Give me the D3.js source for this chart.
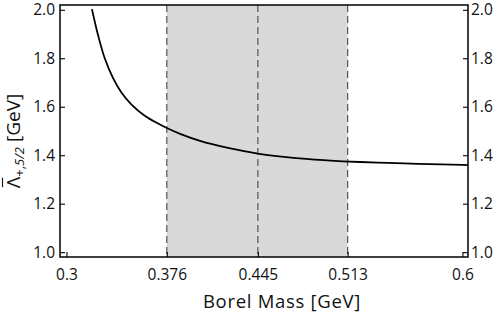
<!DOCTYPE html>
<html>
<head>
<meta charset="utf-8">
<script src="https://cdn.jsdelivr.net/npm/d3@7"></script>
<style>
  body { margin: 0; background: #fff; }
  text { font-family: "Open Sans", sans-serif; fill: #111; }
</style>
</head>
<body>
<div id="chart"></div>
<script>
// datos
var masa = [0.3193, 0.3239, 0.3290, 0.3353, 0.3415, 0.3491, 0.3593, 0.3694, 0.3777, 0.3861,
             0.4012, 0.4215, 0.4450, 0.4720, 0.4973, 0.5225, 0.5500, 0.5750, 0.6000, 0.6040];
var lambda = [2.003, 1.896, 1.800, 1.718, 1.660, 1.610, 1.563, 1.531, 1.508, 1.488,
              1.459, 1.431, 1.407, 1.389, 1.379, 1.372, 1.367, 1.363, 1.360, 1.359];
var ventana = [0.376, 0.445, 0.513]; // lineas discontinuas
var ticksX = [0.3, 0.376, 0.445, 0.513, 0.6],
    ticksY = [1.0, 1.2, 1.4, 1.6, 1.8, 2.0];

var margin = {top: 5, right: 29, bottom: 57, left: 60},
    chartWidth = 497,
    chartHeight = 314,
    width = chartWidth - margin.left - margin.right,
    height = chartHeight - margin.top - margin.bottom;

var svg = d3.select("#chart")
            .append("svg")
            .attr("width", chartWidth)
            .attr("height", chartHeight)
            .append("g")
            .attr("transform", "translate(" + margin.left + "," + margin.top + ")");

var xScale = d3.scaleLinear()
               .domain([0.2951, 0.6042])
               .range([0, width]);

var yScale = d3.scaleLinear()
               .domain([0.980, 2.0198])
               .range([height, 0]);

svg.append("clipPath")
   .attr("id", "clip")
   .append("rect")
   .attr("width", width)
   .attr("height", height);

// banda sombreada
svg.append("rect")
   .attr("x", xScale(ventana[0]))
   .attr("y", 0)
   .attr("width", xScale(ventana[2]) - xScale(ventana[0]))
   .attr("height", height)
   .attr("fill", "#d9d9d9");

svg.selectAll(".dash")
   .data(ventana)
   .enter().append("line")
   .attr("class", "dash")
   .attr("x1", d => xScale(d))
   .attr("x2", d => xScale(d))
   .attr("y1", 0)
   .attr("y2", height)
   .attr("stroke", "#555")
   .attr("stroke-width", 1.2)
   .attr("stroke-dasharray", "7,4");

var line = d3.line()
             .x((d, i) => xScale(masa[i]))
             .y(d => yScale(d))
             .curve(d3.curveCatmullRom.alpha(0.5));

svg.append("path")
   .datum(lambda)
   .attr("clip-path", "url(#clip)")
   .attr("d", line)
   .attr("fill", "none")
   .attr("stroke", "#000")
   .attr("stroke-width", 1.8);

// ejes con ticks hacia dentro
var xAxis = d3.axisBottom(xScale).tickValues(ticksX).tickSize(-5).tickPadding(12)
              .tickFormat(d => d === 0.3 || d === 0.6 ? d3.format(".1f")(d) : d3.format(".3f")(d)),
    yLeft = d3.axisLeft(yScale).tickValues(ticksY).tickSize(-5).tickPadding(5).tickFormat(d3.format(".1f")),
    yRight = d3.axisRight(yScale).tickValues(ticksY).tickSize(-5).tickPadding(3).tickFormat(d3.format(".1f"));

svg.append("g")
   .attr("class", "axis")
   .attr("transform", "translate(0," + height + ")")
   .call(xAxis);

svg.append("g")
   .attr("class", "axis")
   .call(yLeft);

svg.append("g")
   .attr("class", "axis")
   .attr("transform", "translate(" + width + ",0)")
   .call(yRight);

svg.selectAll(".axis .domain").remove();
svg.selectAll(".axis line").attr("stroke", "#000").attr("stroke-width", 1.1);
svg.selectAll(".axis text")
   .style("font-family", "'Open Sans', sans-serif")
   .style("font-size", "15.5px")
   .attr("fill", "#111");

svg.append("rect")
   .attr("width", width)
   .attr("height", height)
   .attr("fill", "none")
   .attr("stroke", "#000")
   .attr("stroke-width", 1.5);

svg.append("text")
   .attr("x", 222)
   .attr("y", height + 51)
   .attr("text-anchor", "middle")
   .style("font-size", "18.5px")
   .style("letter-spacing", "0.7px")
   .text("Borel Mass [GeV]");

// titulo del eje y, con la barra sobre Lambda
var gTitle = svg.append("g")
   .attr("transform", "translate(-40.5,136) rotate(-90)");

var yTitle = gTitle.append("text")
   .attr("text-anchor", "middle")
   .style("font-size", "19px");

yTitle.append("tspan").text("Λ");
yTitle.append("tspan").attr("dy", 4).style("font-size", "13px").text("+,");
yTitle.append("tspan").style("font-size", "13px").style("font-style", "italic").text("5/2");
yTitle.append("tspan").attr("dy", -4).text(" [GeV]");

var caja = yTitle.node().getExtentOfChar(0);
gTitle.append("line")
   .attr("x1", caja.x + 1)
   .attr("x2", caja.x + caja.width - 1)
   .attr("y1", caja.y + 3)
   .attr("y2", caja.y + 3)
   .attr("stroke", "#111")
   .attr("stroke-width", 1.1);
</script>
</body>
</html>
